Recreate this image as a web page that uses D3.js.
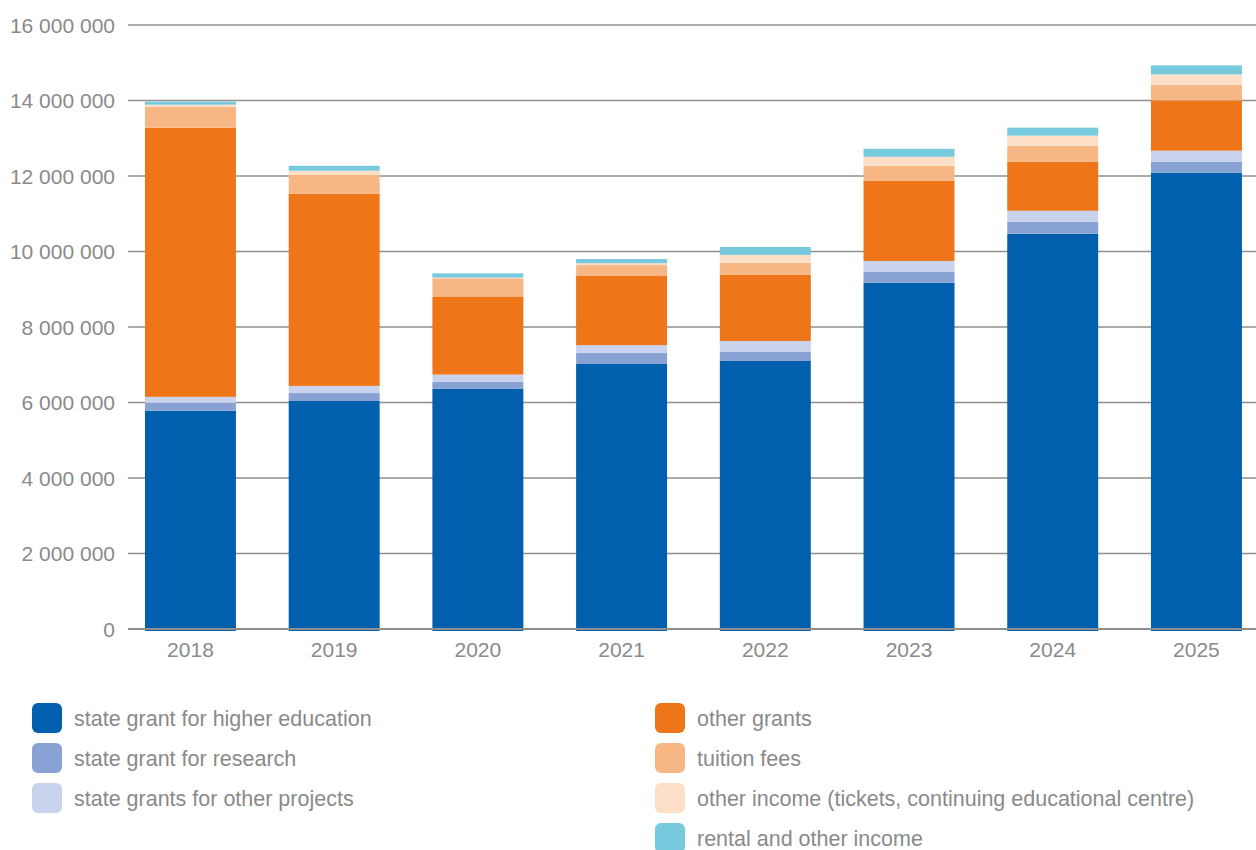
<!DOCTYPE html>
<html>
<head>
<meta charset="utf-8">
<script src="https://cdn.jsdelivr.net/npm/d3@7/dist/d3.min.js"></script>
<style>
  body { margin: 0; background: #fff; }
  svg text { font-family: "Liberation Sans", Arial, sans-serif; fill: #8a8a8a; }
</style>
</head>
<body>
<svg id="chart" width="1256" height="850"></svg>
<script>

var years = ['2018', '2019', '2020', '2021', '2022', '2023', '2024', '2025'];

var seriesNames = [
	'state grant for higher education',
	'state grant for research',
	'state grants for other projects',
	'other grants',
	'tuition fees',
	'other income (tickets, continuing educational centre)',
	'rental and other income'
];

var seriesColors = ['#0060ae', '#87a2d3', '#c9d3ee', '#ee7518', '#f7b784', '#fddfc7', '#77c9dd'];

// values
var higherEducation = [5780000, 6040000, 6360000, 7020000, 7100000, 9170000, 10470000, 12090000];
var research        = [210000, 210000, 190000, 290000, 240000, 290000, 320000, 290000];
var otherProjects   = [160000, 190000, 190000, 210000, 290000, 290000, 290000, 290000];
var otherGrants     = [7130000, 5090000, 2070000, 1830000, 1750000, 2120000, 1300000, 1330000];
var tuitionFees     = [560000, 500000, 480000, 290000, 320000, 400000, 420000, 420000];
var otherIncome     = [50000, 110000, 20000, 50000, 210000, 240000, 270000, 270000];
var rentalIncome    = [80000, 130000, 110000, 110000, 210000, 210000, 210000, 240000];

var yTicks = [0, 2000000, 4000000, 6000000, 8000000, 10000000, 12000000, 14000000, 16000000];

var allSeries = [higherEducation, research, otherProjects, otherGrants, tuitionFees, otherIncome, rentalIncome];

var rows = years.map(function (y, i) {
	var row = { year: y };
	seriesNames.forEach(function (name, k) { row[name] = allSeries[k][i]; });
	return row;
});

var svg = d3.select('#chart');

var gridLeft = 128, gridRight = 1256;
var y0 = 629, yTop = 25;

var x = d3.scaleBand()
	.domain(years)
	.range([118.6, 1268.3])
	.paddingInner(0.367)
	.paddingOuter(0.1835);

var y = d3.scaleLinear()
	.domain([0, 16000000])
	.range([y0, yTop]);

var fmt = function (d) { return d3.format(',')(d).replace(/,/g, ' '); };

// gridlines
svg.append('g')
	.selectAll('line')
	.data(yTicks.slice(1))
	.enter()
	.append('line')
	.attr('x1', gridLeft)
	.attr('x2', gridRight)
	.attr('y1', function (d) { return y(d); })
	.attr('y2', function (d) { return y(d); })
	.attr('stroke', '#8f8f8f')
	.attr('stroke-width', 1.3);

// y tick labels
svg.append('g')
	.selectAll('text')
	.data(yTicks)
	.enter()
	.append('text')
	.attr('x', 115)
	.attr('y', function (d) { return y(d); })
	.attr('dy', '0.36em')
	.attr('text-anchor', 'end')
	.style('font-size', '21px')
	.text(fmt);

// stacked bars
var stack = d3.stack().keys(seriesNames);
var layers = stack(rows);

svg.append('g')
	.selectAll('g')
	.data(layers)
	.enter()
	.append('g')
	.attr('fill', function (d, i) { return seriesColors[i]; })
	.selectAll('rect')
	.data(function (d) { return d; })
	.enter()
	.append('rect')
	.attr('x', function (d) { return x(d.data.year); })
	.attr('width', x.bandwidth())
	.attr('y', function (d) { return y(d[1]); })
	.attr('height', function (d) { return y(d[0]) - y(d[1]) + (d[0] === 0 ? 2 : 0); });

// x axis line
svg.append('line')
	.attr('x1', gridLeft)
	.attr('x2', gridRight)
	.attr('y1', y0)
	.attr('y2', y0)
	.attr('stroke', '#8f8f8f')
	.attr('stroke-width', 2);

// x labels
svg.append('g')
	.selectAll('text')
	.data(years)
	.enter()
	.append('text')
	.attr('x', function (d) { return x(d) + x.bandwidth() / 2; })
	.attr('y', 657)
	.attr('text-anchor', 'middle')
	.style('font-size', '21px')
	.text(function (d) { return d; });

// legend
var legendPos = [
	[32, 718], [32, 758], [32, 798],
	[655, 718], [655, 758], [655, 798], [655, 838]
];

var legend = svg.append('g')
	.selectAll('g')
	.data(seriesNames)
	.enter()
	.append('g')
	.attr('transform', function (d, i) { return 'translate(' + legendPos[i][0] + ',' + legendPos[i][1] + ')'; });

legend.append('rect')
	.attr('x', 0)
	.attr('y', -15)
	.attr('width', 30)
	.attr('height', 30)
	.attr('rx', 6)
	.attr('fill', function (d, i) { return seriesColors[i]; });

legend.append('text')
	.attr('x', 42)
	.attr('y', 0)
	.attr('dy', '0.36em')
	.style('font-size', '21.5px')
	.text(function (d) { return d; });

</script>
</body>
</html>
